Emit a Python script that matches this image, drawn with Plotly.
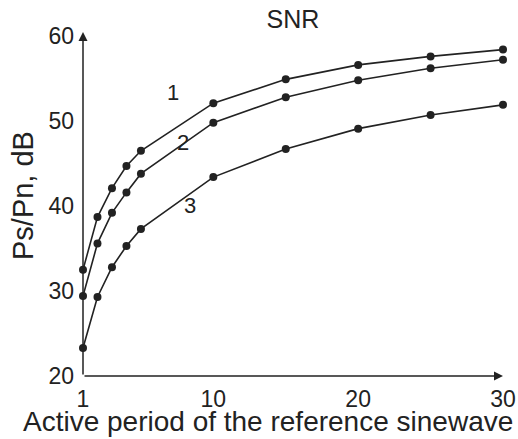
import plotly.graph_objects as go

# Data
periods = [1, 2, 3, 4, 5, 10, 15, 20, 25, 30]
snr_curve1 = [32.5, 38.7, 42.1, 44.7, 46.5, 52.1, 54.9, 56.6, 57.6, 58.4]
snr_curve2 = [29.4, 35.6, 39.2, 41.6, 43.8, 49.8, 52.8, 54.8, 56.2, 57.2]
snr_curve3 = [23.3, 29.3, 32.8, 35.3, 37.3, 43.4, 46.7, 49.1, 50.7, 51.9]
curve_names = ["1", "2", "3"]
x_ticks = [1, 10, 20, 30]
y_ticks = [20, 30, 40, 50, 60]

FONT = "Liberation Sans, Arial, sans-serif"
INK = "#222222"

fig = go.Figure()
for name, vals in zip(curve_names, [snr_curve1, snr_curve2, snr_curve3]):
    fig.add_trace(go.Scatter(
        x=periods, y=vals, mode="lines+markers", name=name,
        line=dict(color=INK, width=1.6),
        marker=dict(color=INK, size=8),
        cliponaxis=False, showlegend=False,
    ))

X0, X1 = 1, 30
Y0, Y1 = 20, 60.47

W, H = 518, 439
fig.update_layout(
    width=W, height=H,
    margin=dict(l=83, r=15, t=32, b=63),
    paper_bgcolor="white", plot_bgcolor="white",
    font=dict(family=FONT, color=INK),
    title=dict(text="SNR", x=293 / W, xanchor="center", y=1 - 19 / H,
               yanchor="middle", font=dict(size=25, family=FONT, color=INK)),
    xaxis=dict(range=[X0, X1], tickvals=x_ticks, ticktext=[str(v) for v in x_ticks],
               showgrid=False, zeroline=False, showline=False, ticks="",
               automargin=False,
               ticklabelstandoff=7, tickfont=dict(size=23, family=FONT, color=INK)),
    yaxis=dict(range=[Y0, Y1], tickvals=y_ticks, ticktext=[str(v) for v in y_ticks],
               showgrid=False, zeroline=False, showline=False, ticks="",
               automargin=False,
               ticklabelstandoff=8, tickfont=dict(size=23, family=FONT, color=INK)),
)

# Axes with arrowheads
fig.add_annotation(x=X0, y=Y1, ax=X0, ay=Y0, xref="x", yref="y", axref="x", ayref="y",
                   showarrow=True, arrowhead=2, arrowsize=1.2, arrowwidth=1.5,
                   arrowcolor=INK, text="", standoff=0, startstandoff=0)
fig.add_annotation(x=X1, y=Y0, ax=X0, ay=Y0, xref="x", yref="y", axref="x", ayref="y",
                   showarrow=True, arrowhead=2, arrowsize=1.2, arrowwidth=1.5,
                   arrowcolor=INK, text="", standoff=0, startstandoff=0)

# Curve labels
label_pos = [(7.2, 53.4), (7.9, 47.5), (8.4, 40.1)]
for name, (lx, ly) in zip(curve_names, label_pos):
    fig.add_annotation(x=lx, y=ly, xref="x", yref="y", text=name, showarrow=False,
                       font=dict(size=22, family=FONT, color=INK))

# Axis titles
fig.add_annotation(x=(268 - 83) / 420, y=(376 - 421) / 344, xref="paper", yref="paper",
                   text="Active period of the reference sinewave", showarrow=False,
                   xanchor="center", yanchor="middle",
                   font=dict(size=28, family=FONT, color=INK))
fig.add_annotation(x=(23 - 83) / 420, y=(376 - 196) / 344, xref="paper", yref="paper",
                   text="Ps/Pn, dB", showarrow=False, textangle=-90,
                   xanchor="center", yanchor="middle",
                   font=dict(size=29, family=FONT, color=INK))

# Remove the default page margin so the figure fills the window exactly
fig.write_html("out.html", config={"displayModeBar": False},
               post_script="document.body.style.margin='0';document.body.style.overflow='hidden';")
